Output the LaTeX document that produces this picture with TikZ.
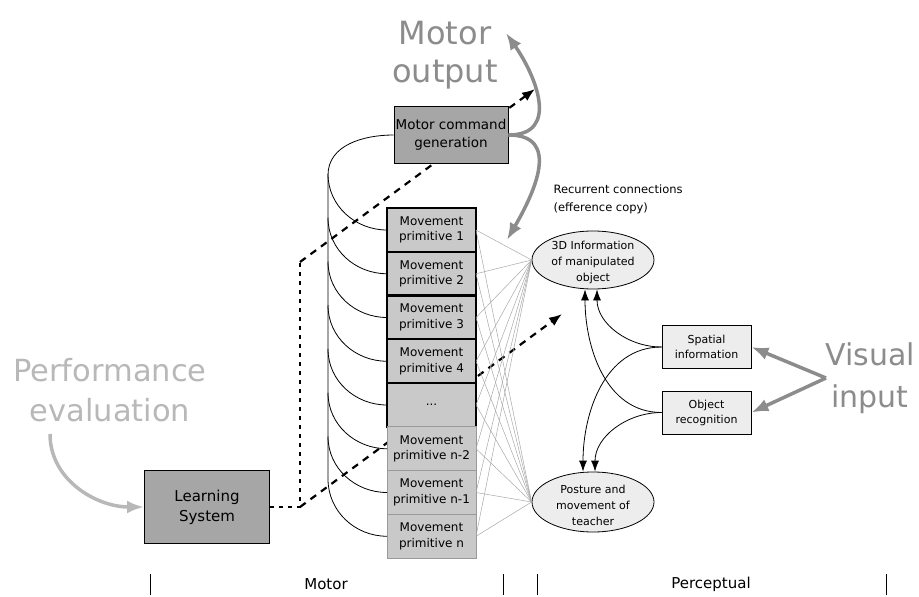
\documentclass[tikz,border=0pt]{standalone}
\usepackage{fontspec}
\setmainfont{DejaVu Sans}
\usetikzlibrary{positioning, calc, shapes.geometric, arrows.meta, backgrounds}

\definecolor{boxgray}{HTML}{C9C9C9}
\definecolor{darkbox}{HTML}{A6A6A6}
\definecolor{paleell}{HTML}{EDEDED}
\definecolor{fanline}{HTML}{A8A8A8}
\definecolor{bigtext}{HTML}{8C8C8C}
\definecolor{paletext}{HTML}{B8B8B8}

\begin{document}
\begin{tikzpicture}[x=1pt, y=-1pt,
    prim/.style={draw, line width=1.5pt, fill=boxgray, minimum width=89pt, minimum height=43.75pt,
        outer sep=0pt, inner sep=0pt, align=center, font=\fontsize{12}{15.5}\selectfont},
    primthin/.style={prim, draw=gray!80, line width=0.8pt},
    primbold/.style={prim, line width=2.6pt},
    cmdbox/.style={draw, line width=1pt, fill=darkbox, align=center, inner sep=0pt},
    sidebox/.style={draw, line width=0.8pt, fill=paleell, minimum width=89pt, minimum height=43pt,
        align=center, font=\fontsize{11}{15}\selectfont},
    infoell/.style={ellipse, draw, line width=0.8pt, fill=paleell, minimum width=122pt,
        minimum height=58pt, inner sep=0pt},
    smalltext/.style={align=center, font=\fontsize{11}{16}\selectfont},
    fan/.style={fanline, line width=0.5pt},
    spine/.style={line width=0.8pt},
    feed/.style={line width=0.8pt, -{Latex[length=11pt, width=8pt]}},
    dotline/.style={line width=2.2pt, dash pattern=on 4pt off 5pt},
    dashline/.style={line width=2.2pt, dash pattern=on 7pt off 6pt, -{Latex[length=13pt, width=10pt]}},
    grayarrow/.style={line width=3.5pt, -{Latex[length=17pt, width=13pt]}},
]
    \useasboundingbox (0,0) rectangle (919,597);
    % Motor command and learning system
    \node[cmdbox, minimum width=114pt, minimum height=57pt, font=\fontsize{13.5}{18}\selectfont]
        (mcg) at (451,135) {Motor command\\generation};
    \node[cmdbox, minimum width=125pt, minimum height=73pt, font=\fontsize{15}{20}\selectfont]
        (learn) at (207,507) {Learning\\System};
    % Stack of movement primitives
    \node[prim] (mp1) at (431.5,230) {Movement\\primitive 1};
    \node[prim, below=0pt of mp1] (mp2) {Movement\\primitive 2};
    \node[primbold, below=0pt of mp2] (mp3) {Movement\\primitive 3};
    \node[prim, below=0pt of mp3] (mp4) {Movement\\primitive 4};
    \node[prim, below=0pt of mp4] (mpdots) {...};
    \node[primthin, below=0pt of mpdots] (mpn2) {Movement\\primitive n-2};
    \node[primthin, below=0pt of mpn2] (mpn1) {Movement\\primitive n-1};
    \node[primthin, below=0pt of mpn1] (mpn) {Movement\\primitive n};
    % Perceptual side
    \node[infoell] (info) at (593,260) {};
    \node[smalltext] (infotxt) at (593,262) {3D Information\\of manipulated\\object};
    \node[infoell, minimum height=60pt] (post) at (593,502) {};
    \node[smalltext] (posttxt) at (593,505) {Posture and\\movement of\\teacher};
    \node[sidebox] (spat) at (706.5,347) {Spatial\\information};
    \node[sidebox] (obj) at (706.5,412.5) {Object\\recognition};
    % Spine joining the loops
    \coordinate (spinetop) at (328,175);
    \coordinate (spinebot) at (328,479);
    \draw[spine] (mcg.west) to[out=180, in=90] (spinetop) -- (spinebot);
    \draw[spine] (mp1.west) to[out=180, in=-90] ($(mp1.west -| spinetop)+(0,-56)$);
    \draw[spine] (mp2.west) to[out=180, in=-90] ($(mp2.west -| spinetop)+(0,-56)$);
    \draw[spine] (mp3.west) to[out=180, in=-90] ($(mp3.west -| spinetop)+(0,-56)$);
    \draw[spine] (mp4.west) to[out=180, in=-90] ($(mp4.west -| spinetop)+(0,-56)$);
    \draw[spine] (mpdots.west) to[out=180, in=-90] ($(mpdots.west -| spinetop)+(0,-56)$);
    \draw[spine] (mpn2.west) to[out=180, in=-90] ($(mpn2.west -| spinetop)+(0,-56)$);
    \draw[spine] (mpn1.west) to[out=180, in=-90] ($(mpn1.west -| spinetop)+(0,-56)$);
    \draw[spine] (mpn.west) to[out=180, in=-90] (spinebot);
    % Fan of connections to the ellipses
    \draw[fan] (mp1.east) -- (info.west) (mp1.east) -- (post.west);
    \draw[fan] (mp2.east) -- (info.west) (mp2.east) -- (post.west);
    \draw[fan] (mp3.east) -- (info.west) (mp3.east) -- (post.west);
    \draw[fan] (mp4.east) -- (info.west) (mp4.east) -- (post.west);
    \draw[fan] (mpdots.east) -- (info.west) (mpdots.east) -- (post.west);
    \draw[fan] (mpn2.east) -- (info.west) (mpn2.east) -- (post.west);
    \draw[fan] (mpn1.east) -- (info.west) (mpn1.east) -- (post.west);
    \draw[fan] (mpn.east) -- (info.west) (mpn.east) -- (post.west);
    % Visual streams
    \draw[feed] (spat.west) to[out=180, in=-90] ([xshift=4pt]info.south);
    \draw[feed] (obj.west) to[out=180, in=-90] ([xshift=-8pt]info.south);
    \draw[feed] (spat.west) to[out=180, in=90] ([xshift=-10pt]post.north);
    \draw[feed] (obj.west) to[out=180, in=90] ([xshift=2pt]post.north);
    % Dashed output of the learning system (behind the boxes)
    \coordinate (split) at (300,507);
    \coordinate (bend) at (300,262);
    \coordinate (mout) at (535,89);
    \coordinate (vtip) at (562,314);
    \begin{pgfonlayer}{background}
        \draw[dotline] (learn.east) -- (split) -- (bend);
        \draw[dashline] (bend) -- (mout);
        \draw[dashline] (split) -- (vtip);
    \end{pgfonlayer}
    % Gray arrows and big labels
    \node[bigtext, align=center, font=\fontsize{32}{38}\selectfont] (motortxt) at (445,55) {Motor\\output};
    \node[paletext, align=center, font=\fontsize{30.5}{40}\selectfont] (perftxt) at (110,390) {Performance\\evaluation};
    \node[bigtext, align=center, font=\fontsize{30}{42}\selectfont] (vistxt) at (870,378) {Visual\\input};
    \node[anchor=west, align=left, font=\fontsize{11.5}{18}\selectfont] (rectxt) at (550,199)
        {Recurrent connections\\(efference copy)};
    \coordinate (otip) at (506,33);
    \coordinate (rtip) at (507,240);
    \coordinate (ptop) at (50,434);
    \coordinate (vis) at (826,378);
    \draw[grayarrow, bigtext] (mcg.east) to[out=0, in=-55, looseness=1.3] (otip);
    \draw[grayarrow, bigtext] (mcg.east) to[out=0, in=60, looseness=1.3] (rtip);
    \draw[grayarrow, paletext] (ptop) to[out=-90, in=180] (learn.west);
    \draw[grayarrow, bigtext] (vis) -- (spat.east);
    \draw[grayarrow, bigtext] (vis) -- (obj.east);
    % Motor / perceptual scale
    \draw[line width=0.8pt] (150,574) -- (150,595) (503,574) -- (503,595)
        (537,574) -- (537,595) (886,574) -- (886,595);
    \node[font=\fontsize{15}{18}\selectfont] (motorax) at (326,584) {Motor};
    \node[font=\fontsize{15}{18}\selectfont] (perax) at (711,584) {Perceptual};
\end{tikzpicture}
\end{document}
